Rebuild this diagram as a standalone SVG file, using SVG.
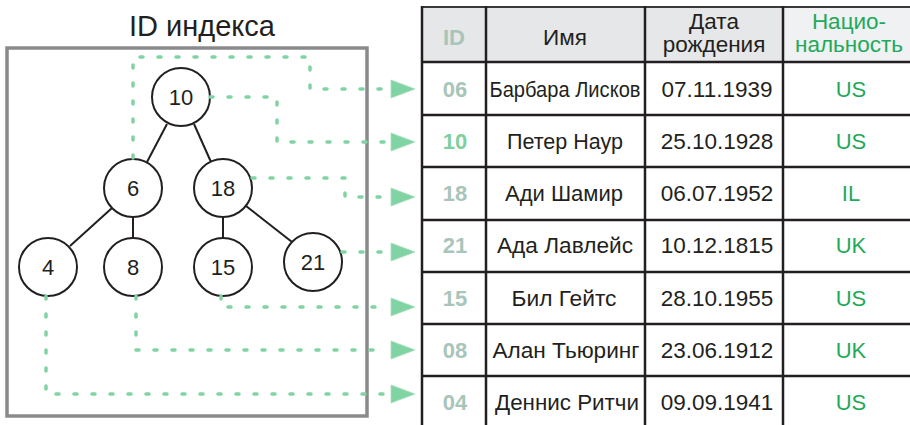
<svg xmlns="http://www.w3.org/2000/svg" width="910" height="425" viewBox="0 0 910 425">
<defs>
<style>
text{font-family:"Liberation Sans",Arial,sans-serif;fill:#231f20;text-anchor:middle}
.title{font-size:29px}
.node circle{fill:#fff;stroke:#231f20;stroke-width:2}
.node text{font-size:22px}
.edge{stroke:#231f20;stroke-width:2;fill:none}
.dash{fill:none;stroke:#80d3a3;stroke-width:3.5;stroke-dasharray:3 15;stroke-linecap:round}
.arrow{fill:#80d3a3;stroke:#a6e0bd;stroke-width:0.8}
.grid{stroke:#231f20;stroke-width:2.5}
.hdr{font-size:22.5px}
.id{font-size:22px;font-weight:bold;fill:#a8c5b9}
.nm{font-size:22px}
.dt{font-size:22.5px}
.nat{font-size:22px;fill:#1fa95b}
</style>
</defs>

<text class="title" x="202" y="36">ID индекса</text>
<rect x="7" y="48" width="360" height="368" fill="none" stroke="#8a8a8c" stroke-width="3.5"/>

<g id="tree-edges">
<line class="edge" x1="167" y1="124" x2="147" y2="162"/>
<line class="edge" x1="194" y1="124" x2="211" y2="162"/>
<line class="edge" x1="112" y1="208" x2="70" y2="246"/>
<line class="edge" x1="133" y1="217" x2="133" y2="238"/>
<line class="edge" x1="223" y1="217" x2="223" y2="238"/>
<line class="edge" x1="246" y1="206" x2="292" y2="242"/>
</g>

<g id="node-10" class="node"><circle cx="181" cy="97" r="29"/><text x="181" y="105">10</text></g>
<g id="node-6" class="node"><circle cx="133" cy="188" r="29"/><text x="133" y="196">6</text></g>
<g id="node-18" class="node"><circle cx="223" cy="188" r="29"/><text x="223" y="196">18</text></g>
<g id="node-4" class="node"><circle cx="48" cy="267" r="29"/><text x="48" y="275">4</text></g>
<g id="node-8" class="node"><circle cx="133" cy="267" r="29"/><text x="133" y="275">8</text></g>
<g id="node-15" class="node"><circle cx="223" cy="267" r="29"/><text x="223" y="275">15</text></g>
<g id="node-21" class="node"><circle cx="313" cy="262" r="29"/><text x="313" y="270">21</text></g>

<g id="connectors">
<path class="dash" d="M133,158 V57 H310 V89 H386"/>
<path class="dash" d="M210,97 H277 V142 H386"/>
<path class="dash" d="M252,178 H345 V197 H386"/>
<path class="dash" d="M342,252 H386"/>
<path class="dash" d="M221,296 V307 H386"/>
<path class="dash" d="M136,296 V350 H386"/>
<path class="dash" d="M46,296 V394 H386"/>
<polygon class="arrow" points="391,80 415,89 391,98"/>
<polygon class="arrow" points="391,133 415,142 391,151"/>
<polygon class="arrow" points="391,188 415,197 391,206"/>
<polygon class="arrow" points="391,243 415,252 391,261"/>
<polygon class="arrow" points="391,298 415,307 391,316"/>
<polygon class="arrow" points="391,341 415,350 391,359"/>
<polygon class="arrow" points="391,385 415,394 391,403"/>
</g>

<g id="table">
<rect x="422" y="7" width="361" height="55" fill="#e6e7e8"/>
<rect x="783" y="7" width="127" height="55" fill="#f0f1f2"/>
<g class="grid">
<line x1="421" y1="7" x2="910" y2="7" stroke="#3a3a3a" stroke-width="2"/>
<line x1="421" y1="62" x2="910" y2="62"/>
<line x1="421" y1="115" x2="910" y2="115"/>
<line x1="421" y1="167" x2="910" y2="167"/>
<line x1="421" y1="220" x2="910" y2="220"/>
<line x1="421" y1="272" x2="910" y2="272"/>
<line x1="421" y1="324" x2="910" y2="324"/>
<line x1="421" y1="376" x2="910" y2="376"/>
<line x1="422" y1="6" x2="422" y2="425"/>
<line x1="486" y1="6" x2="486" y2="425"/>
<line x1="645" y1="6" x2="645" y2="425"/>
<line x1="783" y1="6" x2="783" y2="425"/>
</g>
<text class="id" x="454" y="45">ID</text>
<text class="hdr" x="565" y="45">Имя</text>
<text class="hdr" x="714" y="29">Дата</text>
<text class="hdr" x="714" y="52">рождения</text>
<text class="hdr" x="849" y="29" style="fill:#1fa95b">Нацио-</text>
<text class="hdr" x="849" y="52" style="fill:#1fa95b">нальность</text>

<text class="id" x="455" y="97">06</text>
<text class="nm" x="565" y="97" textLength="151" lengthAdjust="spacingAndGlyphs">Барбара Лисков</text>
<text class="dt" x="717" y="97">07.11.1939</text>
<text class="nat" x="851" y="97">US</text>

<text class="id" x="455" y="149" style="fill:#80cf9f">10</text>
<text class="nm" x="565" y="149" textLength="116" lengthAdjust="spacingAndGlyphs">Петер Наур</text>
<text class="dt" x="717" y="149">25.10.1928</text>
<text class="nat" x="851" y="149">US</text>

<text class="id" x="455" y="201">18</text>
<text class="nm" x="564" y="201" textLength="118" lengthAdjust="spacingAndGlyphs">Ади Шамир</text>
<text class="dt" x="717" y="201">06.07.1952</text>
<text class="nat" x="851" y="201">IL</text>

<text class="id" x="455" y="253">21</text>
<text class="nm" x="565" y="253" textLength="136" lengthAdjust="spacingAndGlyphs">Ада Лавлейс</text>
<text class="dt" x="717" y="253">10.12.1815</text>
<text class="nat" x="851" y="253">UK</text>

<text class="id" x="455" y="306">15</text>
<text class="nm" x="564" y="306" textLength="105" lengthAdjust="spacingAndGlyphs">Бил Гейтс</text>
<text class="dt" x="717" y="306">28.10.1955</text>
<text class="nat" x="851" y="306">US</text>

<text class="id" x="455" y="358">08</text>
<text class="nm" x="566" y="358" textLength="147" lengthAdjust="spacingAndGlyphs">Алан Тьюринг</text>
<text class="dt" x="717" y="358">23.06.1912</text>
<text class="nat" x="851" y="358">UK</text>

<text class="id" x="455" y="410">04</text>
<text class="nm" x="567" y="410" textLength="144" lengthAdjust="spacingAndGlyphs">Деннис Ритчи</text>
<text class="dt" x="717" y="410">09.09.1941</text>
<text class="nat" x="851" y="410">US</text>
</g>
</svg>
